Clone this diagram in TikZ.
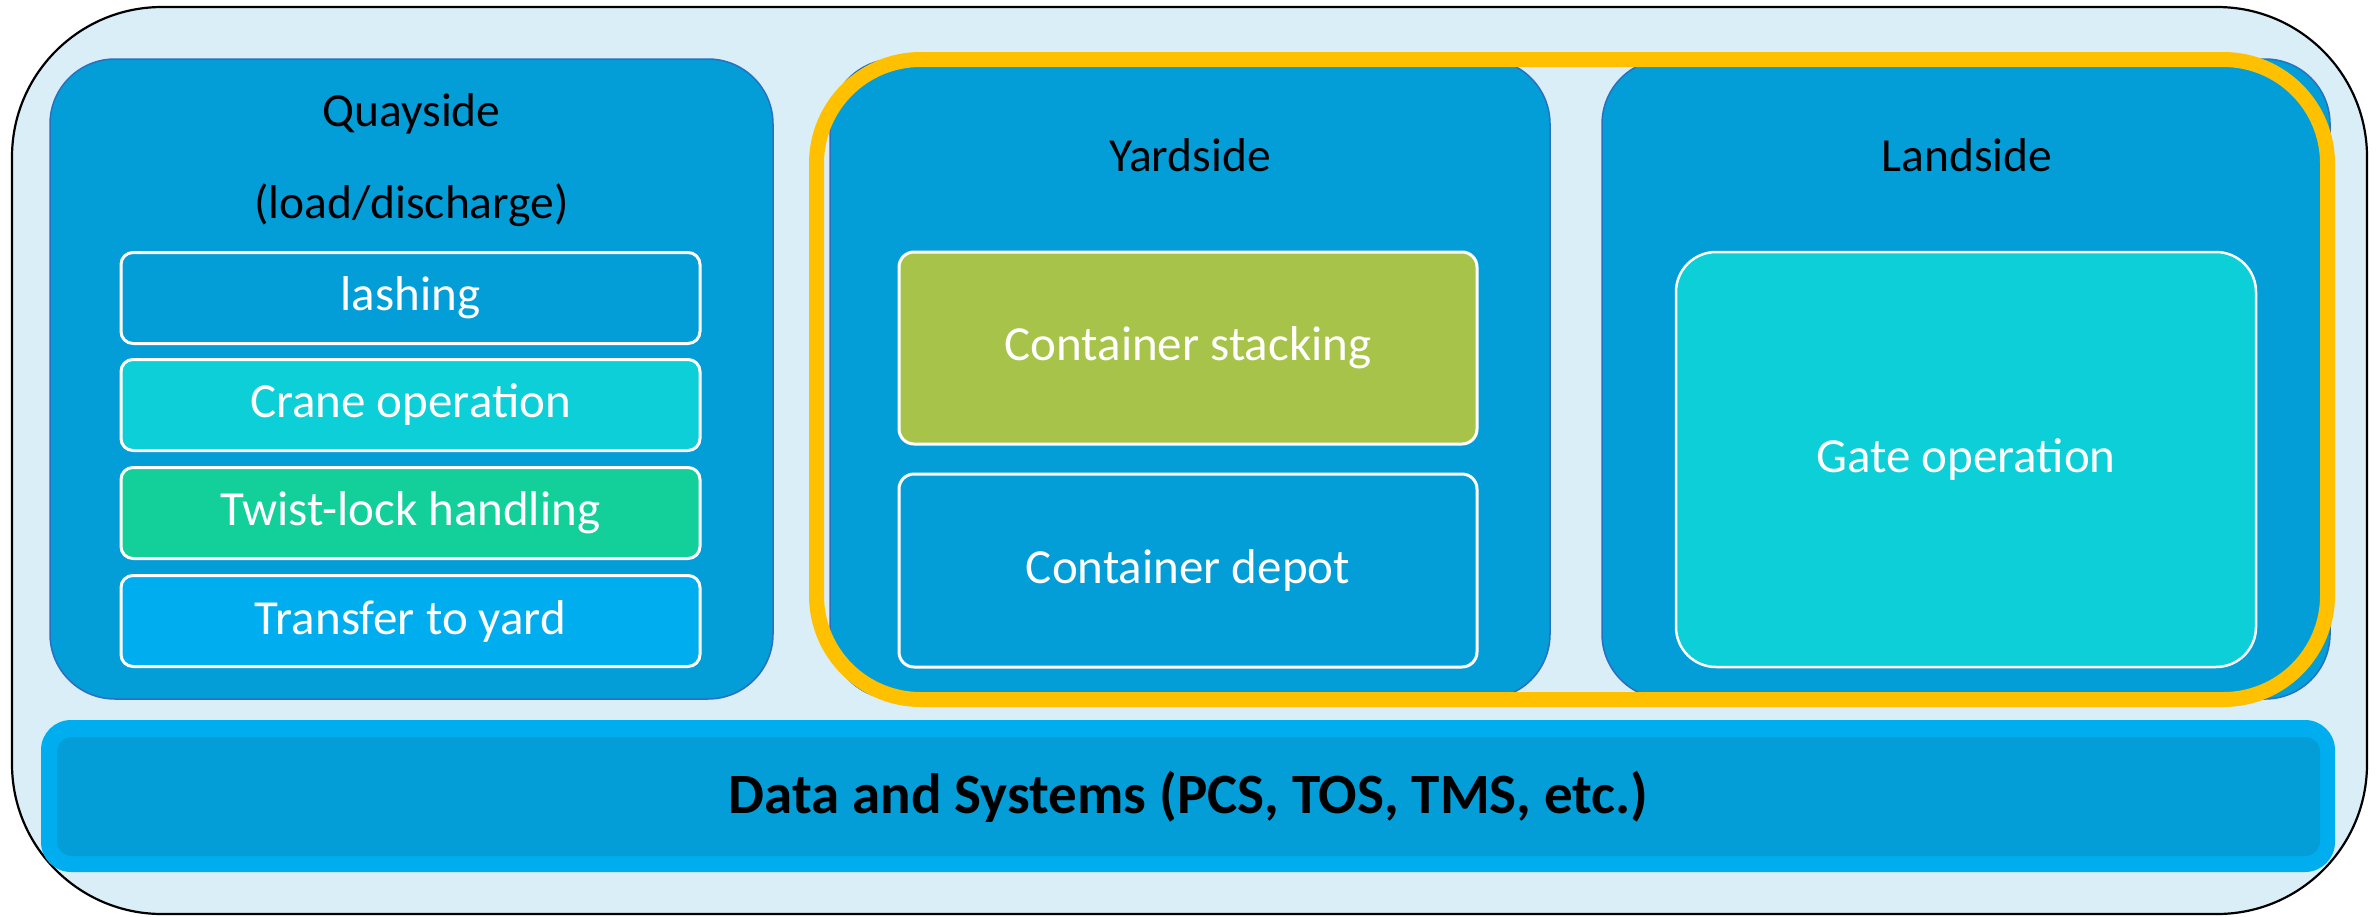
\documentclass[tikz,border=0pt]{standalone}
\usepackage{fontspec}
\setmainfont{Carlito}
\definecolor{bgblue}{HTML}{DAEEF7}
\definecolor{midblue}{HTML}{039DD8}
\definecolor{edgeblue}{HTML}{2A6FC0}
\definecolor{cyanbox}{HTML}{0DCFD8}
\definecolor{greenbox}{HTML}{13D09A}
\definecolor{skyblue}{HTML}{00AEEF}
\definecolor{olivebox}{HTML}{A8C34A}
\definecolor{goldline}{HTML}{FFC000}
\tikzset{
  txt/.style={font=\fontsize{49}{58}\selectfont},
  outerbox/.style={draw=black, line width=2.2pt, fill=bgblue, rounded corners=150pt},
  areabox/.style={draw=edgeblue, line width=1.5pt, fill=midblue, rounded corners=65pt},
  taskbox/.style={draw=white, line width=3pt, rounded corners=12pt, text=white, txt, inner sep=0pt},
  titletxt/.style={font=\fontsize{47.5}{57}\selectfont, text=black, inner sep=0pt},
}
\begin{document}
\begin{tikzpicture}[x=1pt,y=-1pt]
\useasboundingbox (0,0) rectangle (2376,916);
\node[outerbox, minimum width=2355pt, minimum height=907pt] (outer) at (1189.5,460.5) {};
% area boxes
\node[areabox, minimum width=723pt, minimum height=640pt] (quay) at (411.5,379) {};
\node[areabox, minimum width=720pt, minimum height=640pt] (yard) at (1190,379) {};
\node[areabox, minimum width=728pt, minimum height=640pt] (land) at (1966,379) {};
% highlight
\node[draw=goldline, line width=15pt, rounded corners=104pt, minimum width=1511pt, minimum height=640pt] (hl) at (1572,379.5) {};
% titles
\node[titletxt] (quayt) at (411.5,114) {Quayside};
\node[titletxt] (quayt2) at (411.5,205) {(load/discharge)};
\node[titletxt] (yardt) at (1190,155) {Yardside};
\node[titletxt] (landt) at (1967,155) {Landside};
% quayside tasks
\node[taskbox, fill=midblue, minimum width=579pt, minimum height=91pt] (lash) at (410.5,298) {lashing};
\node[taskbox, fill=cyanbox, minimum width=579pt, minimum height=91pt] (crane) at (410.5,405) {Crane operation};
\node[taskbox, fill=greenbox, minimum width=579pt, minimum height=91pt] (twist) at (410.5,513) {Twist-lock handling};
\node[taskbox, fill=skyblue, minimum width=579pt, minimum height=91pt] (transfer) at (410.5,621) {Transfer to yard};
% yardside tasks
\node[taskbox, fill=olivebox, rounded corners=15pt, minimum width=578pt, minimum height=192pt] (stack) at (1188,348) {Container stacking};
\node[taskbox, fill=midblue, rounded corners=15pt, minimum width=578pt, minimum height=193pt] (depot) at (1188,570.5) {Container depot};
% landside task
\node[taskbox, fill=cyanbox, line width=2.5pt, rounded corners=40pt, minimum width=580pt, minimum height=415pt] (gate) at (1966,459.5) {Gate operation};
% data and systems
\node[fill=skyblue, rounded corners=30pt, minimum width=2294pt, minimum height=152pt] (dataout) at (1188,796) {};
\node[fill=midblue, rounded corners=15pt, minimum width=2263pt, minimum height=119pt, font=\fontsize{57}{68}\selectfont\bfseries, text=black] (data) at (1188.5,796.5) {Data and Systems (PCS, TOS, TMS, etc.)};
\end{tikzpicture}
\end{document}
